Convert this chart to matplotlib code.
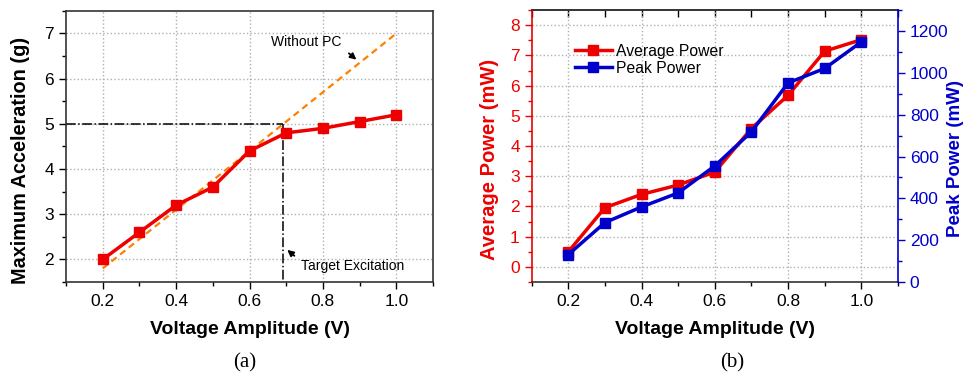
import matplotlib.pyplot as plt
from matplotlib.ticker import MultipleLocator

plt.rcParams['font.family'] = ['Liberation Sans', 'DejaVu Sans']

# data
voltage = [0.2, 0.3, 0.4, 0.5, 0.6, 0.7, 0.8, 0.9, 1.0]
max_accel = [2.0, 2.6, 3.2, 3.6, 4.4, 4.8, 4.9, 5.05, 5.2]
without_pc_x = [0.2, 1.0]
without_pc_y = [1.8, 7.0]
target_v = 0.69
target_g = 5.0

avg_power = [0.5, 1.96, 2.4, 2.71, 3.14, 4.58, 5.68, 7.14, 7.52]
peak_power = [131, 284, 359, 426, 555, 718, 952, 1021, 1148]

RED = '#ee0000'
BLUE = '#0000cc'
ORANGE = '#ff8000'

fig = plt.figure(figsize=(9.67, 3.74), dpi=100)
ax1 = fig.add_axes([0.0683, 0.246, 0.3795, 0.725])
ax2 = fig.add_axes([0.5498, 0.246, 0.3788, 0.727])


def style(ax):
    ax.set_xlim(0.1, 1.1)
    ax.xaxis.set_minor_locator(MultipleLocator(0.1))
    ax.set_xticks([0.2, 0.4, 0.6, 0.8, 1.0])
    ax.set_xticklabels(['0.2', '0.4', '0.6', '0.8', '1.0'])
    ax.tick_params(axis='both', which='major', labelsize=12.5, length=5, width=1)
    ax.tick_params(axis='both', which='minor', length=3, width=1)
    ax.grid(True, which='major', linestyle=':', color='#b0b0b0', linewidth=1)
    ax.set_axisbelow(True)
    for s in ax.spines.values():
        s.set_linewidth(1.2)
        s.set_color('#333333')
    ax.set_xlabel('Voltage Amplitude (V)', fontsize=14, fontweight='bold', labelpad=9)


# (a)
style(ax1)
ax1.set_ylim(1.5, 7.5)
ax1.yaxis.set_major_locator(MultipleLocator(1))
ax1.yaxis.set_minor_locator(MultipleLocator(0.5))
ax1.plot(without_pc_x, without_pc_y, linestyle='--', color=ORANGE, linewidth=1.6, dashes=(3, 2))
ax1.plot([0.1, target_v], [target_g, target_g], color='black', linestyle='-.', linewidth=1.1)
ax1.plot([target_v, target_v], [target_g, 1.5], color='black', linestyle='-.', linewidth=1.1)
ax1.plot(voltage, max_accel, color=RED, linewidth=2.5, marker='s', markersize=6.5)
ax1.set_ylabel('Maximum Acceleration (g)', fontsize=14.3, fontweight='bold')
ax1.yaxis.set_label_coords(-0.098, 0.45)
ax1.text(0.755, 6.8, 'Without PC', fontsize=10, ha='center', va='center')
ax1.annotate('', xy=(0.897, 6.38), xytext=(0.865, 6.6),
             arrowprops=dict(arrowstyle='-|>', color='black', lw=1.3, mutation_scale=9))
ax1.text(0.74, 1.85, 'Target Excitation', fontsize=10, ha='left', va='center')
ax1.annotate('', xy=(0.697, 2.25), xytext=(0.728, 2.04),
             arrowprops=dict(arrowstyle='-|>', color='black', lw=1.3, mutation_scale=9))

# (b)
style(ax2)
ax2.set_ylim(-0.5, 8.5)
ax2.yaxis.set_major_locator(MultipleLocator(1))
ax2.yaxis.set_minor_locator(MultipleLocator(0.5))
ax2.tick_params(axis='y', which='both', colors=RED)
ax2.spines['left'].set_color(RED)
ax2.spines['right'].set_visible(False)
ax2.set_ylabel('Average Power (mW)', fontsize=14.5, fontweight='bold', color=RED)
ax2.yaxis.set_label_coords(-0.089, 0.45)
l1, = ax2.plot(voltage, avg_power, color=RED, linewidth=2.5, marker='s', markersize=6.5,
               label='Average Power')

# inward ticks along the top edge
top = ax2.secondary_xaxis('top')
top.set_xticks([0.2, 0.4, 0.6, 0.8, 1.0])
top.xaxis.set_minor_locator(MultipleLocator(0.1))
top.tick_params(axis='x', which='major', direction='in', length=5, width=1, labeltop=False)
top.tick_params(axis='x', which='minor', direction='in', length=5, width=1)
top.spines['top'].set_linewidth(1.2)
top.spines['top'].set_color('#333333')

ax3 = ax2.twinx()
ax3.set_ylim(0, 1300)
ax3.yaxis.set_major_locator(MultipleLocator(200))
ax3.yaxis.set_minor_locator(MultipleLocator(100))
ax3.tick_params(axis='y', which='major', labelsize=12.5, length=5, width=1, colors=BLUE)
ax3.tick_params(axis='y', which='minor', length=3, width=1, colors=BLUE)
for s in ax3.spines.values():
    s.set_visible(False)
ax3.spines['right'].set_visible(True)
ax3.spines['right'].set_color(BLUE)
ax3.spines['right'].set_linewidth(1.2)
ax3.set_ylabel('Peak Power (mW)', fontsize=13.5, fontweight='bold', color=BLUE)
ax3.yaxis.set_label_coords(1.133, 0.455)
l2, = ax3.plot(voltage, peak_power, color=BLUE, linewidth=2.5, marker='s', markersize=6.5,
               label='Peak Power')

ax2.legend(handles=[l1, l2], loc='upper left', bbox_to_anchor=(0.1, 0.9), frameon=False,
           fontsize=11.3, handlelength=2.4, handletextpad=0.25, borderaxespad=0,
           labelspacing=0.15)

fig.text(0.2535, 0.03, '(a)', fontsize=15, family=['Liberation Serif'], ha='center', va='center')
fig.text(0.757, 0.03, '(b)', fontsize=15, family=['Liberation Serif'], ha='center', va='center')

fig.savefig('out.png', dpi=100)
